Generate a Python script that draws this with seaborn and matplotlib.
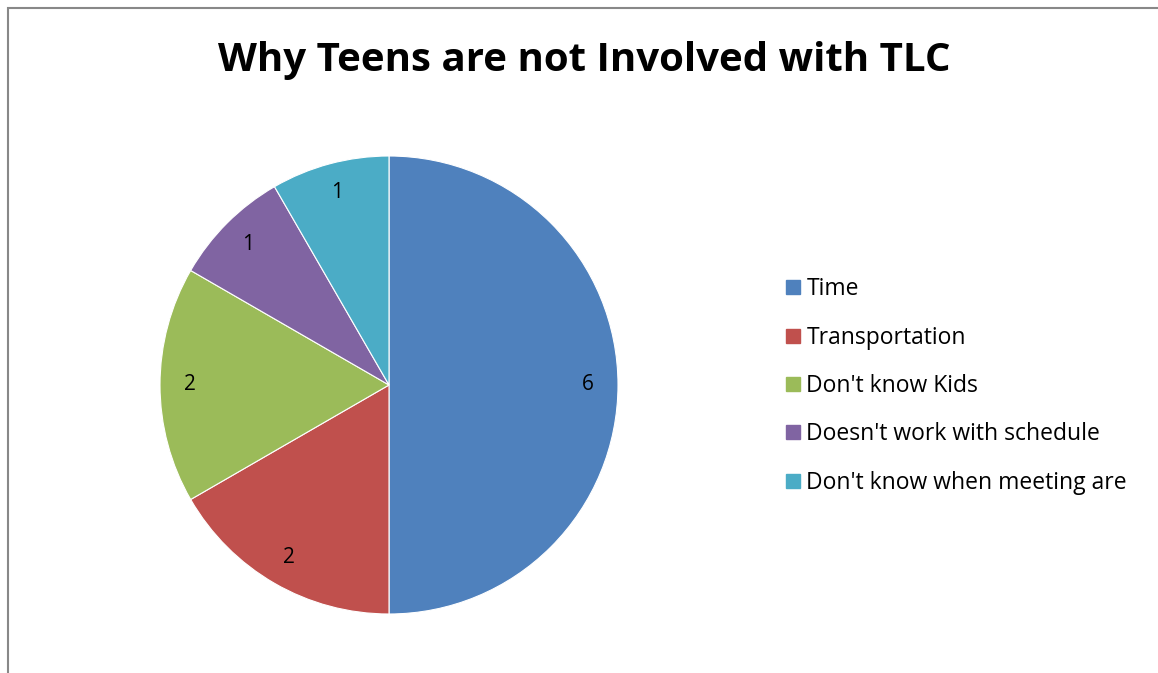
import matplotlib
matplotlib.use("Agg")
import matplotlib.pyplot as plt
import seaborn as sns
from matplotlib.lines import Line2D
from matplotlib.patches import Rectangle

# data
reasons = ["Time", "Transportation", "Don't know Kids",
           "Doesn't work with schedule", "Don't know when meeting are"]
counts = [6, 2, 2, 1, 1]
colors = ["#4F81BD", "#C0504D", "#9BBB59", "#8064A2", "#4BACC6"]

sns.set_theme(style="white")
plt.rcParams['font.family'] = ['Open Sans', 'DejaVu Sans']

W, H = 1158, 673
fig = plt.figure(figsize=(W / 100, H / 100), dpi=100)

# chart frame (clipped on the right and bottom, like the screenshot)
fig.patches.append(Rectangle((8 / W, -0.1), 1.2, (1 - 8 / H) + 0.1,
                             transform=fig.transFigure, fill=False,
                             edgecolor="#888888", linewidth=1.5))

fig.text(584 / W, 1 - 61 / H, "Why Teens are not Involved with TLC",
         ha="center", va="center", fontsize=29, fontweight="bold", color="black")

# pie: centre (389, 385), radius ~229 px
cx, cy, r = 389, 385, 229
ax = fig.add_axes([(cx - r) / W, (H - cy - r) / H, 2 * r / W, 2 * r / H])
pal = sns.color_palette(colors)
total = sum(counts)
wedges, texts, autotexts = ax.pie(
    counts, colors=pal, startangle=90, counterclock=False,
    autopct=lambda p: f"{round(p * total / 100):d}", pctdistance=0.87,
    wedgeprops=dict(edgecolor="white", linewidth=0.8),
    textprops=dict(fontsize=15, color="black"))
ax.set_xlim(-1, 1)
ax.set_ylim(-1, 1)
ax.set_aspect("equal")
ax.axis("off")

handles = [Line2D([0], [0], marker="s", linestyle="", markersize=10,
                  markerfacecolor=c, markeredgecolor=c) for c in pal]
leg = fig.legend(handles, reasons, loc="center left",
                 bbox_to_anchor=(772 / W, 1 - 386 / H), frameon=False,
                 fontsize=16.5, labelspacing=1.06, handletextpad=0.1,
                 borderaxespad=0, handlelength=1.0)
for t in leg.get_texts():
    t.set_color("black")

fig.savefig("out.png", dpi=100)
